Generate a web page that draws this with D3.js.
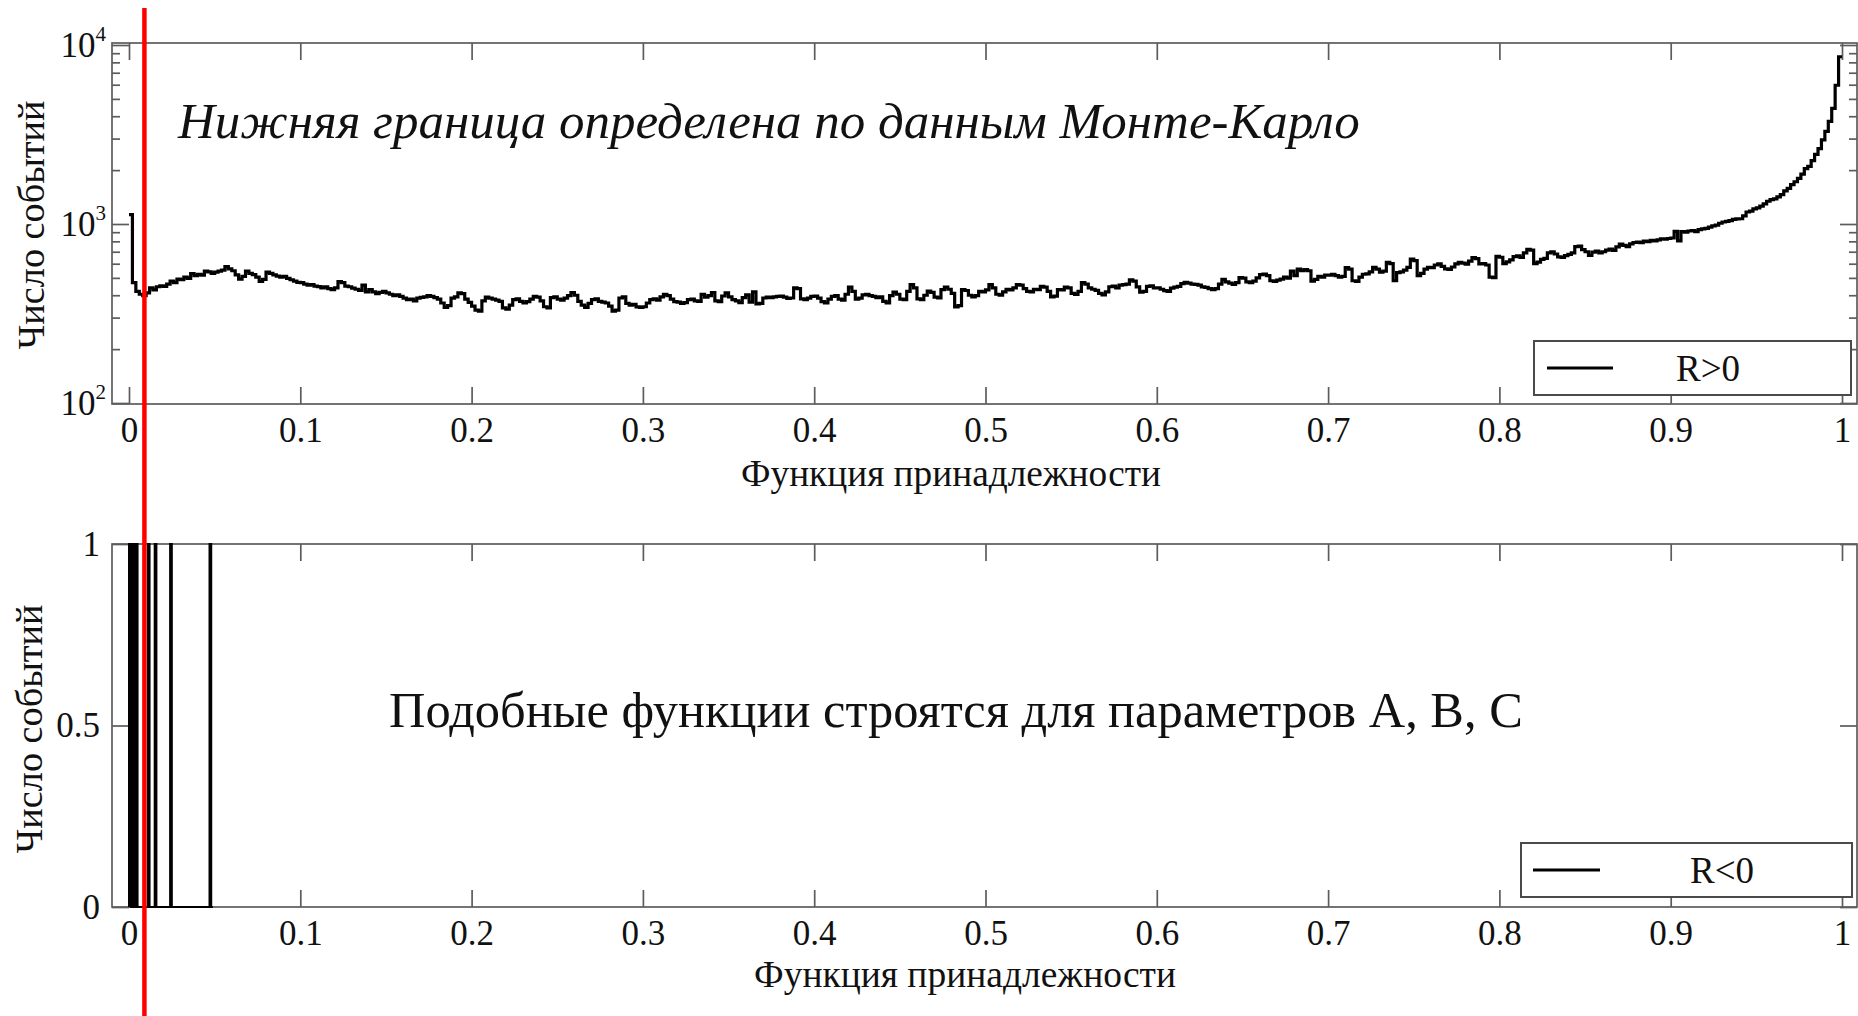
<!DOCTYPE html>
<html>
<head>
<meta charset="utf-8">
<script src="https://cdn.jsdelivr.net/npm/d3@7"></script>
<style>
  html, body { margin: 0; padding: 0; background: #fff; }
  svg { display: block; }
  text { font-family: "Liberation Serif", "Times New Roman", serif; fill: #111; }
</style>
</head>
<body>
<svg id="chart" width="1858" height="1016"></svg>
<script>
// ---- Data ---------------------------------------------------------------
// Membership-function histogram for R>0 events: 500 bins of width 0.002 on [0, 1]
const binWidthPos = 0.002;
const countsPos = [
  1127, 470, 420, 405, 398, 412, 440, 428, 446, 452,
  448, 462, 480, 470, 492, 488, 505, 497, 528, 515,
  524, 518, 546, 540, 530, 538, 545, 552, 578, 562,
  548, 520, 492, 510, 545, 530, 522, 505, 478, 490,
  538, 530, 520, 512, 505, 510, 497, 488, 480, 472,
  470, 462, 455, 458, 450, 447, 440, 445, 436, 430,
  440, 476, 470, 450, 446, 438, 432, 425, 455, 418,
  430, 418, 408, 415, 420, 412, 405, 398, 402, 394,
  385, 378, 380, 372, 385, 389, 392, 398, 394, 388,
  380, 362, 342, 350, 385, 392, 412, 408, 380, 365,
  348, 330, 326, 372, 390, 385, 380, 376, 370, 340,
  334, 352, 378, 382, 370, 362, 368, 380, 394, 390,
  372, 345, 340, 388, 392, 380, 376, 385, 398, 414,
  400, 370, 352, 342, 360, 378, 382, 370, 366, 362,
  348, 326, 330, 386, 392, 360, 352, 356, 344, 342,
  345, 362, 378, 382, 376, 392, 405, 398, 380, 368,
  366, 360, 364, 378, 380, 372, 370, 404, 390, 398,
  414, 372, 368, 396, 412, 392, 378, 372, 364, 388,
  402, 366, 418, 358, 360, 386, 390, 388, 392, 394,
  395, 390, 384, 386, 440, 436, 382, 378, 385, 394,
  396, 385, 368, 362, 380, 394, 398, 380, 376, 405,
  444, 420, 380, 385, 402, 404, 398, 394, 388, 392,
  370, 362, 398, 416, 405, 380, 378, 420, 458, 440,
  382, 378, 400, 422, 415, 390, 386, 430, 444, 432,
  410, 344, 350, 430, 425, 400, 392, 398, 420, 418,
  428, 458, 440, 405, 400, 418, 432, 428, 440, 458,
  455, 435, 420, 418, 432, 430, 448, 444, 420, 392,
  395, 430, 428, 444, 440, 410, 404, 420, 470, 462,
  440, 432, 426, 410, 402, 418, 446, 450, 440, 455,
  458, 462, 488, 480, 445, 416, 420, 448, 452, 440,
  440, 432, 424, 420, 438, 444, 448, 465, 472, 468,
  462, 460, 455, 445, 442, 436, 430, 435, 462, 490,
  475, 468, 460, 470, 502, 498, 475, 470, 480, 500,
  522, 525, 515, 482, 478, 486, 492, 505, 498, 545,
  515, 560, 548, 556, 548, 480, 490, 510, 505, 518,
  518, 524, 515, 504, 510, 570, 560, 482, 478, 505,
  524, 526, 540, 572, 560, 538, 545, 610, 600, 482,
  535, 540, 552, 572, 636, 625, 515, 530, 560, 572,
  570, 590, 598, 580, 562, 558, 575, 598, 610, 605,
  596, 620, 650, 640, 598, 600, 590, 505, 502, 660,
  652, 600, 615, 630, 658, 664, 650, 690, 722, 715,
  600, 612, 635, 642, 690, 698, 680, 655, 650, 665,
  676, 690, 748, 752, 720, 700, 668, 696, 705, 690,
  700, 715, 724, 712, 745, 772, 760, 748, 775, 788,
  792, 786, 802, 796, 810, 805, 815, 826, 822, 830,
  835, 910, 805, 908, 900, 914, 920, 905, 930, 940,
  945, 960, 975, 985, 1010, 1026, 1035, 1045, 1060, 1067,
  1070, 1110, 1167, 1180, 1214, 1230, 1260, 1295, 1340, 1370,
  1380, 1418, 1460, 1532, 1580, 1660, 1722, 1800, 1900, 2037,
  2100, 2259, 2450, 2640, 2950, 3290, 3740, 4430, 5960, 8600
];

// R<0 events: left edges of the 0.001-wide bins that hold one event each
const binWidthNeg = 0.001;
const eventsNeg = [0.000, 0.002, 0.004, 0.011, 0.015, 0.024, 0.047];

// Lower bound of the membership function (from Monte-Carlo)
const lowerBoundary = 0.009;

// Axis ticks and labels
const xTicks = [0, 0.1, 0.2, 0.3, 0.4, 0.5, 0.6, 0.7, 0.8, 0.9, 1];
const xTickLabels = ["0", "0.1", "0.2", "0.3", "0.4", "0.5", "0.6", "0.7", "0.8", "0.9", "1"];
const yTicksPos = [100, 1000, 10000];
const yTickExpPos = ["2", "3", "4"];
const yTicksNeg = [0, 0.5, 1];
const yTickLabelsNeg = ["0", "0.5", "1"];

const xTitle = "Функция принадлежности";
const yTitle = "Число событий";
const legendPos = "R>0";
const legendNeg = "R<0";
const notePos = "Нижняя граница определена по данным Монте-Карло";
const noteNeg = "Подобные функции строятся для параметров A, B, C";

// ---- Layout -------------------------------------------------------------
const svg = d3.select("#chart");
const frameColor = "#5c5c5c";
const frameWidth = 1.7;
const tickFont = 35;

const panelPos = { left: 112, right: 1857, top: 43, bottom: 404 };
const panelNeg = { left: 112, right: 1857, top: 544, bottom: 907 };

const x = d3.scaleLinear().domain([0, 1]).range([129, 1842]);
const yPos = d3.scaleLog().domain([100, 10000]).range([403, 45]);
const yNeg = d3.scaleLinear().domain([0, 1]).range([907, 544]);

// minor ticks for the log axis: 2..9 x 10^k
const yMinorPos = [];
[100, 1000].forEach(dec => { for (let m = 2; m <= 9; m++) yMinorPos.push(m * dec); });

function styleAxis(g) {
  g.select(".domain").remove();
  g.selectAll(".tick line").attr("stroke", frameColor).attr("stroke-width", frameWidth);
  g.selectAll(".tick text").attr("font-size", tickFont).attr("fill", "#111")
    .attr("font-family", '"Liberation Serif", "Times New Roman", serif');
}

function fitText(sel, targetWidth) {
  const node = sel.node();
  const fs = parseFloat(sel.attr("font-size"));
  const w = node.getComputedTextLength();
  if (w > 0) sel.attr("font-size", (fs * targetWidth / w).toFixed(2));
}

function drawFrame(p, y, yMajor, yMinor, yFormat, yPad) {
  const g = svg.append("g");
  // bottom: ticks pointing up, labels below
  g.append("g").attr("transform", `translate(0,${p.bottom})`)
    .call(d3.axisBottom(x).tickValues(xTicks).tickFormat((d, i) => xTickLabels[i])
      .tickSizeInner(-17).tickSizeOuter(0).tickPadding(13))
    .call(styleAxis);
  // top: ticks pointing down
  g.append("g").attr("transform", `translate(0,${p.top})`)
    .call(d3.axisTop(x).tickValues(xTicks).tickFormat(() => "")
      .tickSizeInner(-17).tickSizeOuter(0))
    .call(styleAxis);
  // left major + minor
  g.append("g").attr("transform", `translate(${p.left},0)`)
    .call(d3.axisLeft(y).tickValues(yMajor).tickFormat(yFormat)
      .tickSizeInner(-17).tickSizeOuter(0).tickPadding(yPad))
    .call(styleAxis);
  if (yMinor.length) {
    g.append("g").attr("transform", `translate(${p.left},0)`)
      .call(d3.axisLeft(y).tickValues(yMinor).tickFormat(() => "")
        .tickSizeInner(-8).tickSizeOuter(0))
      .call(styleAxis);
    g.append("g").attr("transform", `translate(${p.right},0)`)
      .call(d3.axisRight(y).tickValues(yMinor).tickFormat(() => "")
        .tickSizeInner(-8).tickSizeOuter(0))
      .call(styleAxis);
  }
  // right major
  g.append("g").attr("transform", `translate(${p.right},0)`)
    .call(d3.axisRight(y).tickValues(yMajor).tickFormat(() => "")
      .tickSizeInner(-17).tickSizeOuter(0))
    .call(styleAxis);
  // frame
  g.append("rect")
    .attr("x", p.left).attr("y", p.top)
    .attr("width", p.right - p.left).attr("height", p.bottom - p.top)
    .attr("fill", "none").attr("stroke", frameColor).attr("stroke-width", frameWidth);
  return g;
}

function stepPoints(counts, bw) {
  return counts.flatMap((c, i) => [[i * bw, c], [(i + 1) * bw, c]]);
}

// ---- Upper panel: R>0, log scale ---------------------------------------
drawFrame(panelPos, yPos, yTicksPos, yMinorPos, () => "", 12);

// log-axis labels 10^k
yTicksPos.forEach((v, i) => {
  const t = svg.append("text")
    .attr("x", 106).attr("y", yPos(v)).attr("dy", 12)
    .attr("text-anchor", "end");
  t.append("tspan").attr("font-size", tickFont).text("10");
  t.append("tspan").attr("font-size", 21).attr("dy", -16).text(yTickExpPos[i]);
});

const linePos = d3.line().x(d => x(d[0])).y(d => yPos(d[1]));
svg.append("path")
  .datum(stepPoints(countsPos, binWidthPos))
  .attr("d", linePos)
  .attr("fill", "none").attr("stroke", "#000").attr("stroke-width", 3.2)
  .attr("stroke-linejoin", "miter");

// ---- Lower panel: R<0, linear scale ------------------------------------
drawFrame(panelNeg, yNeg, yTicksNeg, [], (d, i) => yTickLabelsNeg[i], 12);

const nNeg = Math.round(d3.max(eventsNeg) / binWidthNeg) + 2;
const countsNeg = new Array(nNeg).fill(0);
eventsNeg.forEach(e => { countsNeg[Math.round(e / binWidthNeg)] += 1; });
const ptsNeg = [[0, 0]].concat(stepPoints(countsNeg, binWidthNeg));
const lineNeg = d3.line().x(d => x(d[0])).y(d => yNeg(d[1]));
svg.append("path")
  .datum(ptsNeg)
  .attr("d", lineNeg)
  .attr("fill", "none").attr("stroke", "#000").attr("stroke-width", 2);

// ---- Axis titles --------------------------------------------------------
[[474, 420, 951], [975, 422, 965]].forEach(([cy, w, cx]) => {
  const t = svg.append("text")
    .attr("x", cx).attr("y", cy).attr("dy", "0.32em")
    .attr("text-anchor", "middle").attr("font-size", 34).text(xTitle);
  fitText(t, w);
});
[[32, 225], [30, 729]].forEach(([cx, cy]) => {
  const t = svg.append("text")
    .attr("transform", `translate(${cx},${cy}) rotate(-90)`)
    .attr("dy", "0.32em")
    .attr("text-anchor", "middle").attr("font-size", 34).text(yTitle);
  fitText(t, 249);
});

// ---- Legends ------------------------------------------------------------
function legend(box, lineX0, lineX1, textX, label) {
  const cy = (box.y0 + box.y1) / 2;
  svg.append("rect")
    .attr("x", box.x0).attr("y", box.y0)
    .attr("width", box.x1 - box.x0).attr("height", box.y1 - box.y0)
    .attr("fill", "#fff").attr("stroke", "#4a4a4a").attr("stroke-width", 2);
  svg.append("line")
    .attr("x1", lineX0).attr("x2", lineX1).attr("y1", cy).attr("y2", cy)
    .attr("stroke", "#000").attr("stroke-width", 3);
  svg.append("text")
    .attr("x", textX).attr("y", cy).attr("dy", "0.34em")
    .attr("font-size", 37).text(label);
}
legend({ x0: 1534, y0: 341, x1: 1851, y1: 395 }, 1547, 1613, 1676, legendPos);
legend({ x0: 1521, y0: 843, x1: 1852, y1: 897 }, 1533, 1600, 1690, legendNeg);

// ---- Annotations --------------------------------------------------------
const n1 = svg.append("text")
  .attr("x", 178).attr("y", 138)
  .attr("font-style", "italic").attr("font-size", 48).attr("fill", "#000")
  .text(notePos);
fitText(n1, 1182);

const n2 = svg.append("text")
  .attr("x", 389).attr("y", 727)
  .attr("font-size", 46).attr("fill", "#000")
  .text(noteNeg);
fitText(n2, 1134);

// ---- Lower-bound marker -------------------------------------------------
svg.append("line")
  .attr("x1", x(lowerBoundary)).attr("x2", x(lowerBoundary))
  .attr("y1", 8).attr("y2", 1016)
  .attr("stroke", "#ff0000").attr("stroke-width", 4.5);
</script>
</body>
</html>
